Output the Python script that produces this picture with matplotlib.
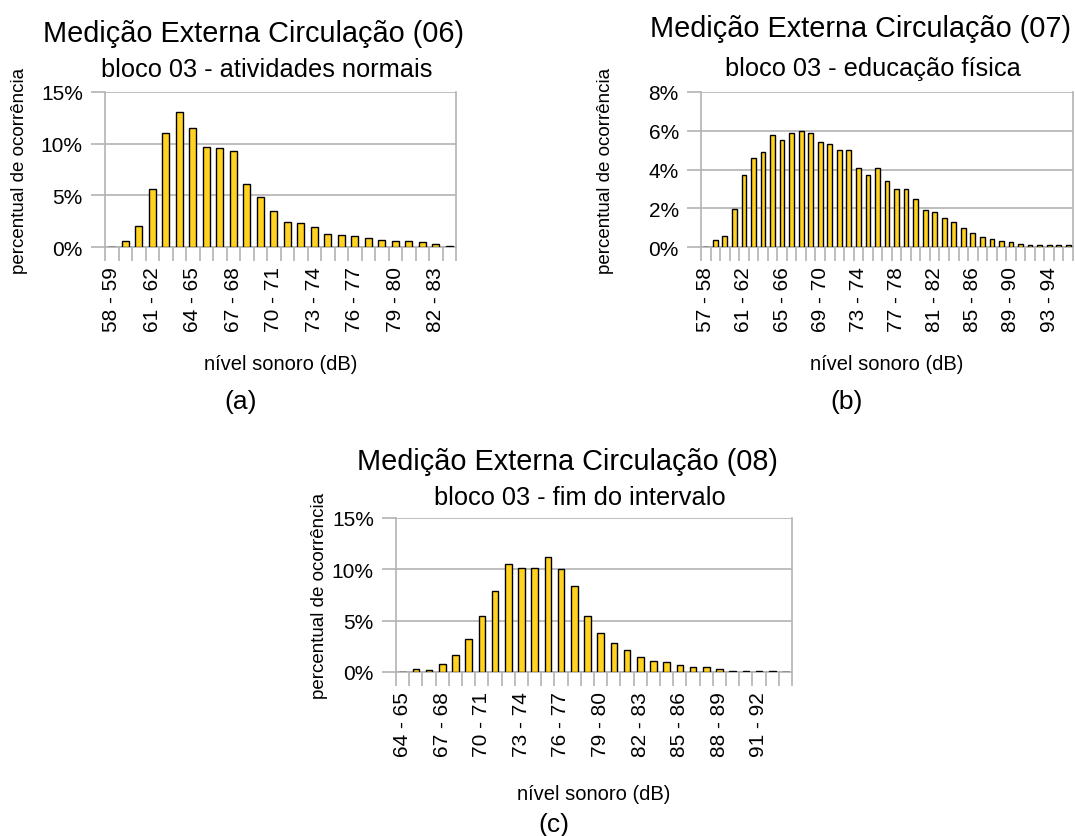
import numpy as np
import matplotlib
matplotlib.use("Agg")
import matplotlib.pyplot as plt
from matplotlib.ticker import FuncFormatter, FixedLocator

plt.rcParams['font.family'] = ['Liberation Sans', 'DejaVu Sans']

W, H = 1075, 837

# (a) bloco 03 - atividades normais, 58-59 .. 83-84 dB
start_a = 58
pct_a = [0.0, 0.55, 2.0, 5.6, 11.0, 13.1, 11.5, 9.7, 9.6, 9.3, 6.1, 4.8, 3.5,
         2.4, 2.3, 1.9, 1.3, 1.2, 1.1, 0.9, 0.7, 0.6, 0.55, 0.45, 0.25, 0.1]

# (b) bloco 03 - educação física, 57-58 .. 95-96 dB
start_b = 57
pct_b = [0.0, 0.36, 0.56, 1.95, 3.7, 4.6, 4.9, 5.8, 5.5, 5.9, 6.0, 5.9, 5.4,
         5.3, 5.0, 5.0, 4.1, 3.7, 4.1, 3.4, 3.0, 3.0, 2.5, 1.9, 1.8, 1.5,
         1.3, 1.0, 0.7, 0.5, 0.4, 0.3, 0.25, 0.15, 0.1, 0.1, 0.1, 0.1, 0.1]

# (c) bloco 03 - fim do intervalo, 64-65 .. 93-94 dB
start_c = 64
pct_c = [0.0, 0.32, 0.23, 0.75, 1.7, 3.25, 5.5, 7.9, 10.5, 10.1, 10.1, 11.2,
         10.0, 8.4, 5.5, 3.8, 2.8, 2.1, 1.5, 1.1, 0.97, 0.7, 0.45, 0.45,
         0.28, 0.12, 0.05, 0.05, 0.05, 0.0]

GRID = '#b3b3b3'
BAR = '#ffd320'


def px_axes(fig, left, right, top, bottom):
    return fig.add_axes([left / W, 1 - bottom / H, (right - left) / W, (bottom - top) / H])


def draw(ax, start, pct, ymax, ystep, every):
    n = len(pct)
    x = np.arange(n)
    labels = ['%d - %d' % (start + i, start + i + 1) for i in range(n)]
    ax.bar(x, pct, width=0.5, color=BAR, edgecolor='black', linewidth=1.0, zorder=3)
    ax.set_xlim(-0.5, n - 0.5)
    ax.set_ylim(0, ymax)
    ax.set_yticks(np.arange(0, ymax + 0.01, ystep))
    ax.yaxis.set_major_formatter(FuncFormatter(lambda v, p: '%d%%' % round(v)))
    ax.grid(axis='y', color=GRID, linewidth=1.2, zorder=0)
    ax.set_xticks(x[::every])
    ax.set_xticklabels(labels[::every], rotation=90, fontsize=15)
    ax.xaxis.set_minor_locator(FixedLocator(np.arange(-0.5, n, 1.0)))
    ax.tick_params(axis='x', which='major', length=0, pad=14)
    ax.tick_params(axis='x', which='minor', length=10, color=GRID, width=1.2)
    ax.tick_params(axis='y', length=10, color=GRID, width=1.2, pad=6, labelsize=15)
    ax.spines['top'].set_visible(False)
    for s in ['left', 'bottom', 'right']:
        ax.spines[s].set_color(GRID)
        ax.spines[s].set_linewidth(1.2)


def ftext(fig, x, y, s, **kw):
    fig.text(x / W, 1 - y / H, s, **kw)


fig = plt.figure(figsize=(W / 100, H / 100), dpi=100)

ax_a = px_axes(fig, 105, 456, 93, 248)
draw(ax_a, start_a, pct_a, 15, 5, 3)
ax_b = px_axes(fig, 701, 1073, 93, 248)
draw(ax_b, start_b, pct_b, 8, 2, 4)
ax_c = px_axes(fig, 396, 792, 519, 673)
draw(ax_c, start_c, pct_c, 15, 5, 3)

panels = [
    (ax_a, 'Medição Externa Circulação (06)', 'bloco 03 - atividades normais', '(a)', 20, 42, 77, 365, 402),
    (ax_b, 'Medição Externa Circulação (07)', 'bloco 03 - educação física', '(b)', 605, 37, 76, 365, 402),
    (ax_c, 'Medição Externa Circulação (08)', 'bloco 03 - fim do intervalo', '(c)', 320, 470, 505, 795, 825),
]
for ax, title, sub, tag, ylx, ty, sy, xly, tagy in panels:
    bb = ax.get_position()
    cx = (bb.x0 + bb.x1) / 2 * W
    cy = (1 - (bb.y0 + bb.y1) / 2) * H
    ftext(fig, cx - 27, ty, title, fontsize=20.8, ha='center', va='baseline')
    ftext(fig, cx - 14, sy, sub, fontsize=18.3, ha='center', va='baseline')
    ftext(fig, ylx, cy, 'percentual de ocorrência', fontsize=13.5, rotation=90, ha='center', va='center')
    ftext(fig, cx, xly, 'nível sonoro (dB)', fontsize=14.5, ha='center', va='center')
    ftext(fig, cx - 40, tagy, tag, fontsize=19, ha='center', va='center')

fig.savefig('out.png', dpi=100)
